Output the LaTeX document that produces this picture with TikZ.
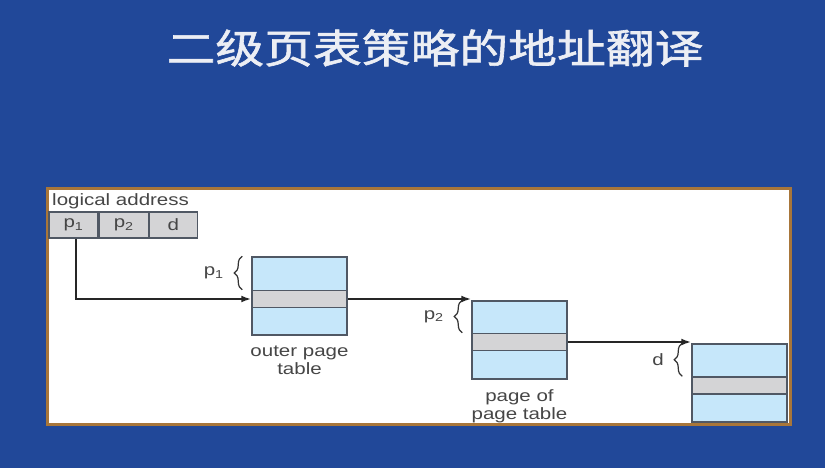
\documentclass[tikz,border=0pt]{standalone}
\usepackage{fontspec}
\setmainfont{Liberation Sans}
\newfontfamily\diagfont[FakeStretch=1.25]{Liberation Sans}
\newfontfamily\titlefont[FakeStretch=1.22,FakeBold=1.5]{Noto Sans CJK SC}
\usetikzlibrary{arrows.meta,positioning,decorations.pathreplacing}
\definecolor{SlideBlue}{RGB}{33,72,153}
\definecolor{PanelEdge}{RGB}{168,118,58}
\definecolor{TblBlue}{RGB}{198,231,250}
\definecolor{TblGray}{RGB}{212,212,214}
\definecolor{TblLine}{RGB}{80,88,100}
\definecolor{LblGray}{RGB}{70,70,70}
\definecolor{TitleWhite}{RGB}{236,238,244}
\tikzset{
  pg/panel/.style={
    draw=PanelEdge,
    line width=3pt,
    fill=white,
    inner sep=0pt
  },
  pg/table/.style={
    draw=TblLine,
    line width=1.5pt,
    fill=TblBlue,
    minimum width=95pt,
    minimum height=78pt,
    inner sep=0pt
  },
  pg/row/.style={
    draw=TblLine,
    line width=1.5pt,
    fill=TblGray,
    minimum width=95pt,
    minimum height=17pt,
    inner sep=0pt
  },
  pg/cell/.style={
    draw=TblLine,
    line width=1.2pt,
    fill=TblGray,
    minimum height=26pt,
    inner sep=0pt,
    text=LblGray,
    font=\diagfont\fontsize{16.4}{17}\selectfont
  },
  pg/label/.style={
    inner sep=0pt,
    text=LblGray,
    align=center,
    font=\diagfont\fontsize{16.4}{17.5}\selectfont
  },
  pg/arrow/.style={-{Latex[length=10pt,width=7pt]}, line width=2pt, draw=black!85},
  pg/brace/.style={decorate, decoration={brace, amplitude=8pt}, line width=1.2pt, draw=black!80}
}
\begin{document}
\begin{tikzpicture}[x=1pt,y=-1pt]
  \useasboundingbox[fill=SlideBlue] (0,0) rectangle (825,468);
  \node[text=TitleWhite,font=\titlefont\fontsize{40}{40}\selectfont] (title) at (435,48) {二级页表策略的地址翻译};
  \node[pg/panel,minimum width=743pt,minimum height=235pt] (panel) at (418.5,306.5) {};

  % logical address
  \node[pg/label,anchor=west] (lalabel) at (52,201) {logical address};
  \node[pg/cell,minimum width=49pt] (cp1) at (73.5,225) {p\textsubscript{1}};
  \node[pg/cell,minimum width=49pt,right=0pt of cp1] (cp2) {p\textsubscript{2}};
  \node[pg/cell,minimum width=48pt,right=0pt of cp2] (cd) {d};

  % tables
  \node[pg/table] (t1) at (299.5,296) {};
  \node[pg/row] (r1) at ([yshift=-3pt]t1.center) {};
  \node[pg/table] (t2) at (519.5,340) {};
  \node[pg/row] (r2) at ([yshift=-2pt]t2.center) {};
  \node[pg/table] (t3) at (739.5,383) {};
  \node[pg/row] (r3) at ([yshift=-2.5pt]t3.center) {};

  \node[pg/label,below=10pt of t1] (cap1) {outer page\\table};
  \node[pg/label,below=10pt of t2] (cap2) {page of\\page table};

  % offsets
  \draw[pg/brace] ([xshift=-9pt]r1.north -| t1.west) -- ([xshift=-9pt]t1.north west)
    node[pg/label,midway,left=18pt] (bp1) {p\textsubscript{1}};
  \draw[pg/brace] ([xshift=-9pt]r2.north -| t2.west) -- ([xshift=-9pt]t2.north west)
    node[pg/label,midway,left=18pt] (bp2) {p\textsubscript{2}};
  \draw[pg/brace] ([xshift=-9pt]r3.north -| t3.west) -- ([xshift=-9pt]t3.north west)
    node[pg/label,midway,left=18pt] (bd) {d};

  \draw[pg/arrow] ([xshift=2.5pt]cp1.south) |- (r1.west);
  \draw[pg/arrow] (r1.east) -- (r1.east -| t2.west);
  \draw[pg/arrow] (r2.east) -- (r2.east -| t3.west);
\end{tikzpicture}
\end{document}
